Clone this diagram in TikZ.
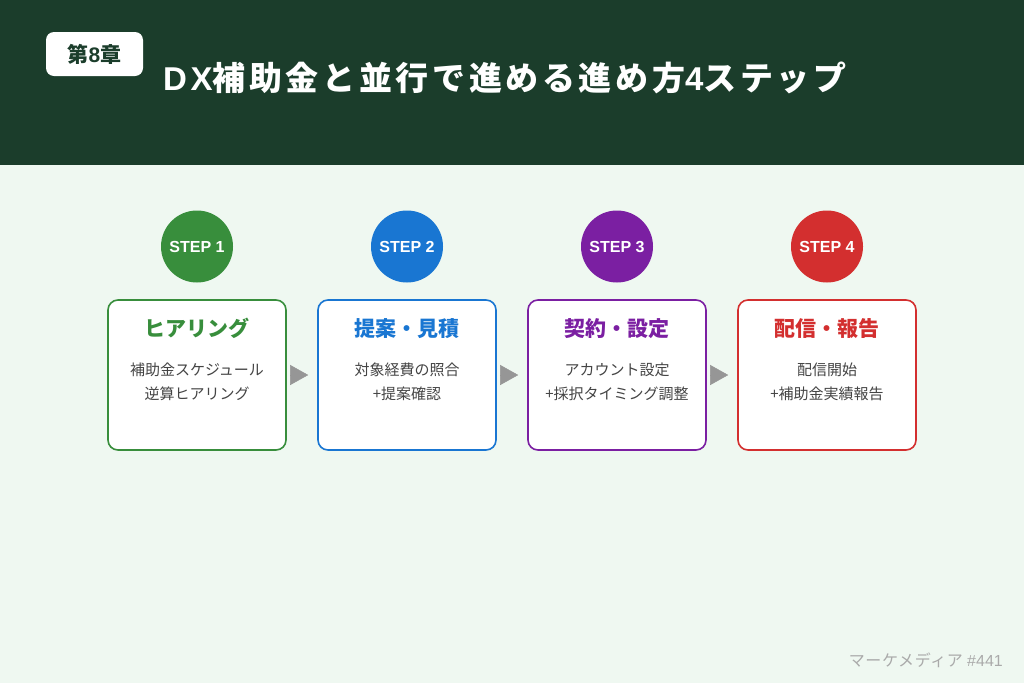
\documentclass[tikz,border=0pt]{standalone}
\usepackage{fontspec}
\setmainfont{Noto Sans CJK JP}
\newfontfamily\latinsans{Liberation Sans}
\usetikzlibrary{arrows.meta,positioning}
\definecolor{hdrgreen}{RGB}{27,61,43}
\definecolor{pagebg}{RGB}{239,248,241}
\definecolor{stepgreen}{RGB}{56,142,60}
\definecolor{stepblue}{RGB}{25,118,210}
\definecolor{steppurple}{RGB}{123,31,162}
\definecolor{stepred}{RGB}{211,47,47}
\definecolor{bodygray}{RGB}{68,68,68}
\definecolor{arrowgray}{RGB}{150,150,150}
\definecolor{footgray}{RGB}{170,170,170}

\begin{document}
\begin{tikzpicture}[
    x=1pt, y=-1pt,
    node distance=16.5pt and 30.4pt,
    stepbox/.style={draw=#1, fill=white, line width=1.6pt, rounded corners=10pt,
                    minimum width=178pt, minimum height=150pt, inner sep=0pt},
    stepdot/.style={circle, fill=#1, minimum size=72pt, inner sep=0pt,
                    text=white, font=\latinsans\fontsize{16}{18}\selectfont\bfseries},
    boxtitle/.style={font=\fontsize{21}{24}\selectfont\bfseries, text=#1},
    boxbody/.style={font=\fontsize{15}{24}\selectfont, text=bodygray,
                    align=center},
    flowarrow/.style={-{Triangle[length=18pt,width=20pt]}, draw=arrowgray,
                      fill=arrowgray, shorten <=4pt, shorten >=9pt},
  ]
    \useasboundingbox (0,0) rectangle (1024,683);

    % Header band
    \fill[pagebg] (0,165) rectangle (1024,683);
    \fill[hdrgreen] (0,0) rectangle (1024,165);
    \node[fill=white, rounded corners=8pt, minimum width=97pt, minimum height=44pt,
          inner sep=0pt, text=hdrgreen, font=\fontsize{21}{22}\selectfont\bfseries]
          (badge) at (94.5,54)
          {\addfontfeature{LetterSpace=12}第{\latinsans\addfontfeature{LetterSpace=12}8}章};
    \node[anchor=west, inner sep=0pt, text=white,
          font=\fontsize{33}{38}\selectfont\bfseries]
          (title) at (163,78)
          {\addfontfeature{LetterSpace=11}{\latinsans\addfontfeature{LetterSpace=11}DX}補助金と並行で進める進め方{\latinsans\addfontfeature{LetterSpace=11}4}ステップ};

    % Step boxes
    \node[stepbox=stepgreen] (box1) at (197,375) {};
    \node[stepbox=stepblue, right=of box1] (box2) {};
    \node[stepbox=steppurple, right=of box2] (box3) {};
    \node[stepbox=stepred, right=of box3] (box4) {};

    % Step circles
    \node[stepdot=stepgreen, above=of box1] (dot1) {STEP 1};
    \node[stepdot=stepblue, above=of box2] (dot2) {STEP 2};
    \node[stepdot=steppurple, above=of box3] (dot3) {STEP 3};
    \node[stepdot=stepred, above=of box4] (dot4) {STEP 4};

    % Box contents
    \node[boxtitle=stepgreen] (head1) at ([yshift=-29pt]box1.north) {ヒアリング};
    \node[boxbody] (body1) at ([yshift=-83pt]box1.north)
          {補助金スケジュール\\逆算ヒアリング};
    \node[boxtitle=stepblue] (head2) at ([yshift=-29pt]box2.north) {提案・見積};
    \node[boxbody] (body2) at ([yshift=-83pt]box2.north)
          {対象経費の照合\\+提案確認};
    \node[boxtitle=steppurple] (head3) at ([yshift=-29pt]box3.north) {契約・設定};
    \node[boxbody] (body3) at ([yshift=-83pt]box3.north)
          {アカウント設定\\+採択タイミング調整};
    \node[boxtitle=stepred] (head4) at ([yshift=-29pt]box4.north) {配信・報告};
    \node[boxbody] (body4) at ([yshift=-83pt]box4.north)
          {配信開始\\+補助金実績報告};

    % Arrows between steps
    \draw[flowarrow] (box1.east) -- (box2.west);
    \draw[flowarrow] (box2.east) -- (box3.west);
    \draw[flowarrow] (box3.east) -- (box4.west);

    % Footer
    \node[anchor=east, inner sep=0pt, text=footgray,
          font=\fontsize{16}{18}\selectfont]
          (footer) at (1003,660) {\addfontfeature{LetterSpace=4}マーケメディア {\latinsans\#441}};
  \end{tikzpicture}
\end{document}
